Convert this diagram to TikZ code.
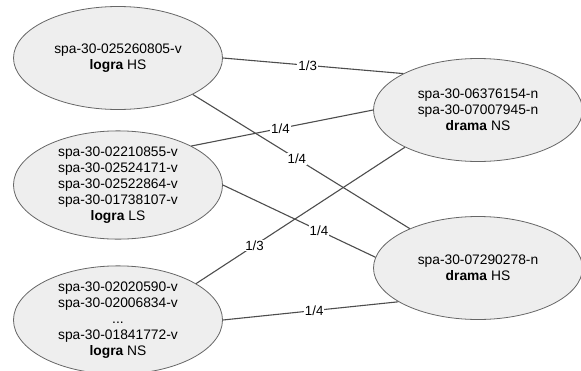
\documentclass[tikz,border=0pt]{standalone}
\usepackage{fontspec}
\setmainfont{Liberation Sans}
\usetikzlibrary{shapes.geometric}
\definecolor{efill}{HTML}{EEEEEE}
\definecolor{edraw}{HTML}{666666}
\definecolor{lcol}{HTML}{4D4D4D}
\tikzset{
  ell/.style={ellipse, draw=edraw, fill=efill, line width=0.8pt,
    minimum width=209pt, minimum height=103pt, inner sep=0pt,
    align=center, font=\fontsize{13.8}{16}\selectfont},
  conn/.style={draw=lcol, line width=1.1pt},
  lab/.style={fill=white, inner sep=1pt, font=\fontsize{13.3}{15}\selectfont}
}
\begin{document}
\begin{tikzpicture}[x=1pt,y=-1pt]
\useasboundingbox (0,0) rectangle (581,370);
\node[ell] (lhs) at (118,58) {spa-30-025260805-v\\\textbf{logra} HS};
\node[ell] (lls) at (118,185) {spa-30-02210855-v\\spa-30-02524171-v\\spa-30-02522864-v\\spa-30-01738107-v\\\textbf{logra} LS};
\node[ell] (lns) at (118,320) {spa-30-02020590-v\\spa-30-02006834-v\\...\\spa-30-01841772-v\\\textbf{logra} NS};
\node[ell] (dns) at (478,110) {spa-30-06376154-n\\spa-30-07007945-n\\\textbf{drama} NS};
\node[ell] (dhs) at (478,268) {spa-30-07290278-n\\\textbf{drama} HS};
\draw[conn] (lhs.east) -- node[lab, pos=0.47] {1/3} (dns.154);
\draw[conn] (lls.28) -- node[lab, pos=0.49] {1/4} (dns.west);
\draw[conn] (lhs.-26) -- node[lab, pos=0.48] {1/4} (dhs.150);
\draw[conn] (lls.east) -- node[lab, pos=0.63] {1/4} (dhs.174);
\draw[conn] (lns.25.6) -- node[lab, pos=0.28] {1/3} (dns.207.5);
\draw[conn] (lns.east) -- node[lab, pos=0.52] {1/4} (dhs.203);
\end{tikzpicture}
\end{document}
